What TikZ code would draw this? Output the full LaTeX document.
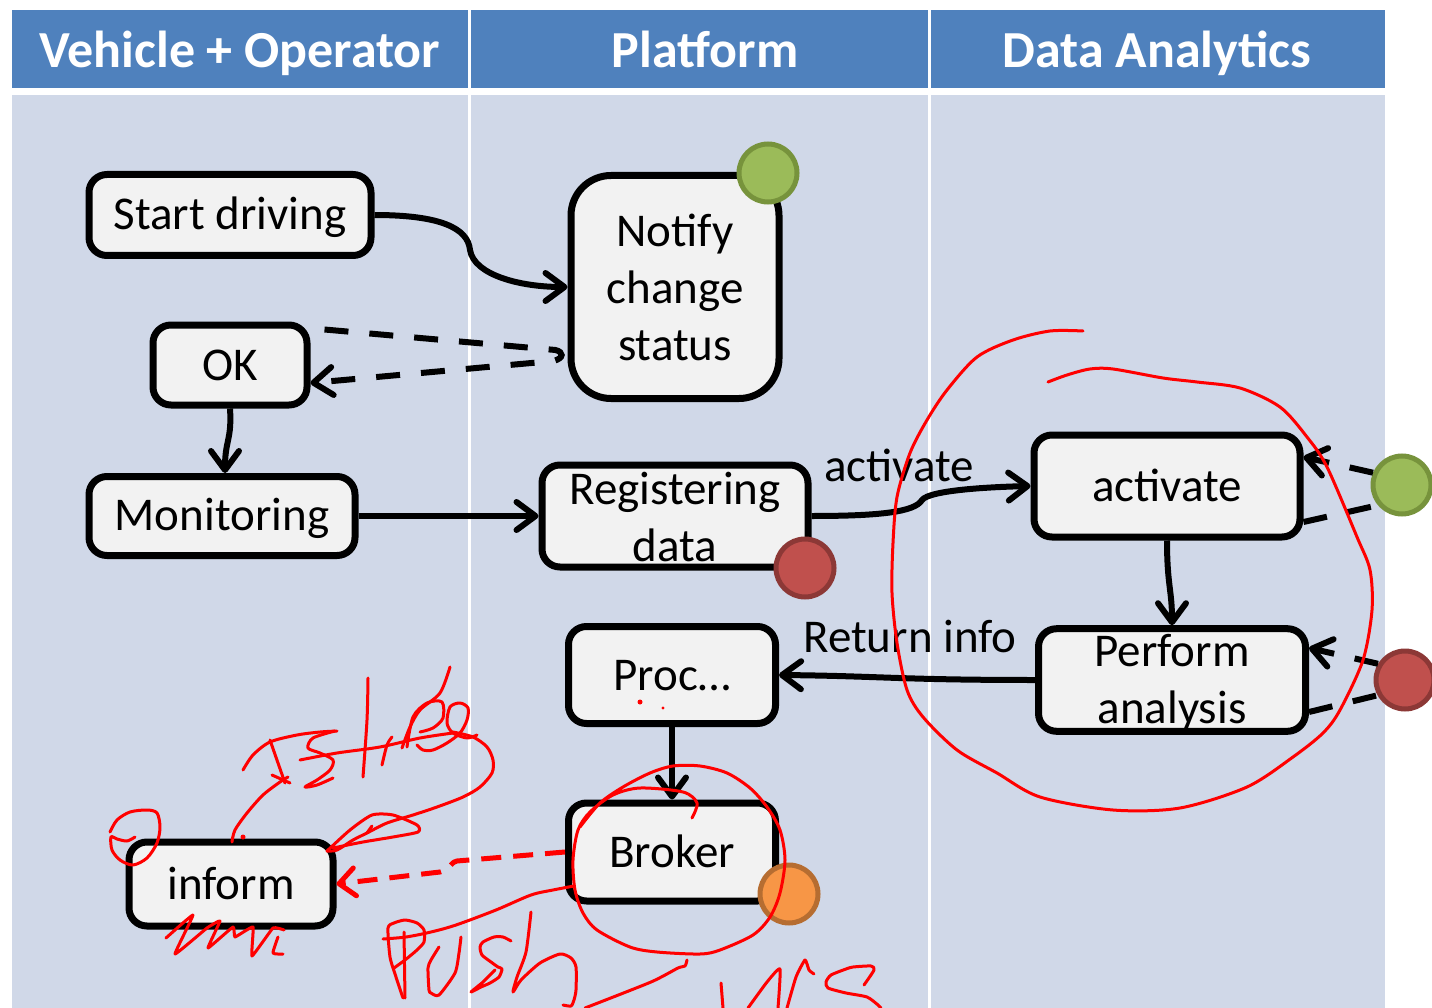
\documentclass[tikz,border=0pt]{standalone}
\usepackage{fontspec}
\setmainfont{Carlito}
\usetikzlibrary{arrows.meta,calc}
\definecolor{hdr}{HTML}{4F81BD}
\definecolor{lane}{HTML}{D0D8E8}
\definecolor{boxfill}{HTML}{F2F2F2}
\definecolor{gfill}{HTML}{9BBB59}\definecolor{gline}{HTML}{77933C}
\definecolor{rfill}{HTML}{C0504D}\definecolor{rline}{HTML}{8C3836}
\definecolor{ofill}{HTML}{F79646}\definecolor{oline}{HTML}{B66D31}
\definecolor{ink}{HTML}{FF0000}
\newcommand{\mytopstrut}{\rule{0pt}{38pt}}
\newcommand{\mybotstrut}{\rule[-5pt]{0pt}{5pt}}
\tikzset{
  box/.style={draw=black, line width=7pt, fill=boxfill, rounded corners=18pt, inner sep=0pt, align=center, font=\fontsize{47}{57}\selectfont,
    execute at begin node={\rule{0pt}{38pt}}, execute at end node={\rule[-8pt]{0pt}{8pt}}},
  mlbox/.style={draw=black, line width=7pt, fill=boxfill, rounded corners=18pt, inner sep=0pt, align=center, font=\fontsize{47}{57}\selectfont},
  dot/.style={circle, line width=5pt, minimum size=58pt, inner sep=0pt},
  tip/.style={-{Straight Barb[length=19pt,width=28pt,round]}},
  conn/.style={line width=6pt, tip},
  dconn/.style={line width=6pt, dash pattern=on 24pt off 21pt},
  lbl/.style={font=\fontsize{47}{57}\selectfont, inner sep=0pt, anchor=base},
  hdrtxt/.style={text=white, font=\fontsize{52}{60}\selectfont\bfseries, inner sep=0pt, anchor=base},
  pen/.style={draw=ink, line width=3pt, line cap=round, line join=round},
}
\begin{document}
\begin{tikzpicture}[x=1pt,y=-1pt]
\useasboundingbox (0,0) rectangle (1432,1008);
\fill[white] (0,0) rectangle (1432,1008);
% lanes
\fill[hdr] (12,10) rectangle (1385,88);
\fill[lane] (12,95) rectangle (1385,1008);
\draw[white, line width=3pt] (469.5,10) -- (469.5,1008) (929.5,10) -- (929.5,1008);
\node[hdrtxt] (h1) at (240,68) {Vehicle + Operator};
\node[hdrtxt] (h2) at (705,68) {Platform};
\node[hdrtxt] (h3) at (1157,68) {Data Analytics};
% nodes
\node[box, minimum width=282pt, minimum height=81pt] (start) at (230,215) {Start driving};
\node[mlbox, rounded corners=40pt, minimum width=208pt, minimum height=223pt] (notify) at (675,287) {\mytopstrut Notify\\change\\status\mybotstrut};
\node[box, minimum width=154pt, minimum height=80pt] (ok) at (230,365) {OK};
\node[box, minimum width=266pt, minimum height=79pt] (mon) at (222,516) {Monitoring};
\node[mlbox, minimum width=266pt, minimum height=102pt] (reg) at (675,516) {\mytopstrut Registering\\data\mybotstrut};
\node[box, minimum width=266pt, minimum height=102pt] (act) at (1167,486) {activate};
\node[mlbox, minimum width=267pt, minimum height=101pt] (perf) at (1172,680) {\mytopstrut Perform\\analysis\mybotstrut};
\node[box, minimum width=207pt, minimum height=97pt] (proc) at (672,675) {Proc…};
\node[box, minimum width=207pt, minimum height=98pt] (broker) at (672,852) {Broker};
\node[box, minimum width=204pt, minimum height=84pt] (inform) at (231,884) {inform};
% event circles
\node[dot, fill=gfill, draw=gline] (g1) at (768,173) {};
\node[dot, fill=rfill, draw=rline] (r1) at (805,568) {};
\node[dot, fill=gfill, draw=gline] (g2) at (1402,485) {};
\node[dot, fill=rfill, draw=rline] (r2) at (1405,680) {};
\node[dot, fill=ofill, draw=oline] (o1) at (789,894) {};
% connectors
\draw[conn] (start.east) .. controls (440,215) and (468,228) .. (470,250) .. controls (474,275) and (520,287) .. (notify.west);
\draw[dconn, tip] ([xshift=14pt,yshift=-8pt]ok.north east) -- ([xshift=-12pt,yshift=-63pt]notify.west) .. controls ([xshift=-4pt,yshift=-65pt]notify.west) and ([xshift=-3pt,yshift=-71pt]notify.west) .. ([xshift=-14pt,yshift=-74pt]notify.west) -- ([yshift=-18pt]ok.east);
\draw[conn] (ok.south) .. controls (232,440) and (225,440) .. ([xshift=3pt]mon.north);
\draw[conn] (mon.east) -- (reg.west);
\draw[conn] (reg.east) .. controls (880,516) and (915,512) .. (922,500) .. controls (930,490) and (990,487) .. (act.west);
\node[lbl] (lact) at (899,481) {activate};
\draw[conn] (act.south) .. controls (1167,585) and (1172,590) .. (perf.north);
\draw[conn] (perf.west) .. controls (900,680) and (880,676) .. (proc.east);
\node[lbl] (lret) at (910,652) {Return info};
\draw[conn] (proc.south) -- (broker.north);
\draw[dconn, tip] (g2.157) -- ([yshift=29pt]act.east);
\draw[dconn] ([yshift=-36pt]act.east) -- (g2.220);
\draw[dconn, tip] (r2.149) -- ([yshift=32pt]perf.east);
\draw[dconn] ([yshift=-32pt]perf.east) -- (r2.209);
\draw[draw=ink, line width=5pt, dash pattern=on 20pt off 12pt, -{Straight Barb[length=16pt,width=28pt,round]}] (broker.west) -- (457,861) .. controls (449,863) and (452,869) .. (440,872) -- (inform.east);
% hand-drawn annotations
\draw[pen] plot[smooth, tension=0.5] coordinates {(1083,331) (1050,331) (1013,340) (977,357) (947,390) (927,420) (910,453) (897,497) (893,543) (892,593) (897,643) (907,690) (923,717) (957,750) (997,773) (1040,797) (1113,810) (1180,808) (1247,787) (1293,757) (1323,733) (1340,710) (1363,660) (1372,610) (1370,570) (1357,537) (1327,467) (1307,437) (1280,407) (1240,388) (1197,382) (1163,378) (1113,369) (1090,369) (1067,375) (1048,382)};
\draw[pen] plot[smooth, tension=0.5] coordinates {(692,818) (697,803) (683,792) (640,788) (613,795) (590,812) (578,830) (573,860) (575,890) (583,913) (597,930) (630,947) (657,952) (700,954) (720,950) (753,935) (770,917) (780,893) (785,860) (780,830) (767,807) (750,788) (727,773) (700,766) (673,766) (650,773) (623,787) (600,803) (580,827)};
\draw[pen] plot[smooth, tension=0.5] coordinates {(574,886) (553,890) (531,895) (496,910) (456,925) (431,932) (406,937) (383,939)};
% Push
\draw[pen] plot[smooth, tension=0.4] coordinates {(403,998) (396,977) (390,957) (388,928) (394,923) (405,920) (417,923) (424,930) (424,942) (417,950) (405,960) (394,968)};
\draw[pen] (404,932) -- (405,998);
\draw[pen] plot[smooth, tension=0.4] coordinates {(439,947) (431,960) (428,968) (429,990) (431,993) (439,995) (455,973) (459,953) (461,937)};
\draw[pen] plot[smooth, tension=0.4] coordinates {(511,941) (503,937) (494,937) (483,942) (480,947) (482,955) (491,962) (498,967) (502,969) (499,977) (490,983) (481,987) (471,992) (483,982) (495,970)};
\draw[pen] plot[smooth, tension=0.4] coordinates {(531,912) (526,952) (517,977) (513,992) (521,980) (540,963) (560,954) (571,958) (576,967) (576,990) (574,1000) (571,1006) (563,1005)};
\draw[pen] plot[smooth, tension=0.4] coordinates {(687,960) (685,966) (678,968) (651,982) (585,1008)};
% NCS
\draw[pen] (721,983) -- (723,1008);
\draw[pen] plot[smooth, tension=0.3] coordinates {(748,1008) (767,982) (780,969) (778,1008)};
\draw[pen] plot[smooth, tension=0.3] coordinates {(787,1008) (796,977) (805,960) (809,970) (814,974)};
\draw[pen] plot[smooth, tension=0.4] coordinates {(864,985) (874,970) (871,966) (853,967) (846,969) (831,975) (826,982) (828,988) (846,993) (867,997) (878,1005) (881,1008)};
% Istree scribble
\draw[pen] plot[smooth, tension=0.5] coordinates {(232,842) (235,830) (247,813) (263,795) (280,782) (288,777)};
\fill[ink] (243,837) circle (2.5);
\draw[pen] plot[smooth, tension=0.5] coordinates {(243,770) (253,755) (270,742) (297,735) (320,732) (337,731)};
\draw[pen] plot[smooth, tension=0.5] coordinates {(270,740) (278,763) (285,783)};
\draw[pen] (272,775) -- (290,783);
\draw[pen] plot[smooth, tension=0.5] coordinates {(335,731) (313,738) (308,748) (320,753) (333,760) (330,770) (317,780) (305,787) (317,785) (333,778)};
\draw[pen] plot[smooth, tension=0.5] coordinates {(368,678) (367,720) (363,777)};
\draw[pen] plot[smooth, tension=0.5] coordinates {(300,760) (337,753) (380,747) (420,738) (453,733)};
\draw[pen] plot[smooth, tension=0.5] coordinates {(382,765) (387,745) (392,737)};
\draw[pen] plot[smooth, tension=0.5] coordinates {(402,748) (410,727) (420,710) (440,693) (450,667)};
\draw[pen] plot[smooth, tension=0.5] coordinates {(407,747) (413,717) (427,703) (442,702) (443,718) (433,728) (420,732)};
\draw[pen] plot[smooth, tension=0.5] coordinates {(417,745) (423,750) (433,750) (447,743) (460,733) (467,720) (468,708) (460,703) (450,707) (447,723) (453,733) (467,738) (477,735)};
\draw[pen] plot[smooth, tension=0.5] coordinates {(453,732) (473,737) (487,747) (493,760) (492,773) (480,787) (463,797) (437,807) (413,815) (387,823) (367,833) (353,840) (337,850) (327,851)};
\draw[pen] plot[smooth, tension=0.4] coordinates {(327,851) (350,830) (372,815) (393,815) (417,825) (418,832) (393,837) (363,842) (333,848)};
\draw[pen] (367,833) -- (372,826);
% small circle and zigzag at inform
\draw[pen] plot[smooth, tension=0.5] coordinates {(110,832) (117,820) (130,812) (147,810) (157,813) (160,827) (157,843) (147,858) (133,865) (120,860) (112,850) (111,837) (117,839) (127,841) (135,837)};
\draw[pen] plot[smooth, tension=0.2] coordinates {(166,938) (193,915) (175,954) (207,928) (220,921) (208,948) (233,927) (235,937) (253,927) (252,956) (273,928) (284,930)};
\draw[pen] plot[smooth, tension=0.3] coordinates {(278,937) (273,953) (283,954)};
\fill[ink] (640,702) circle (2.5) (663,708) circle (1.6);
\end{tikzpicture}
\end{document}
